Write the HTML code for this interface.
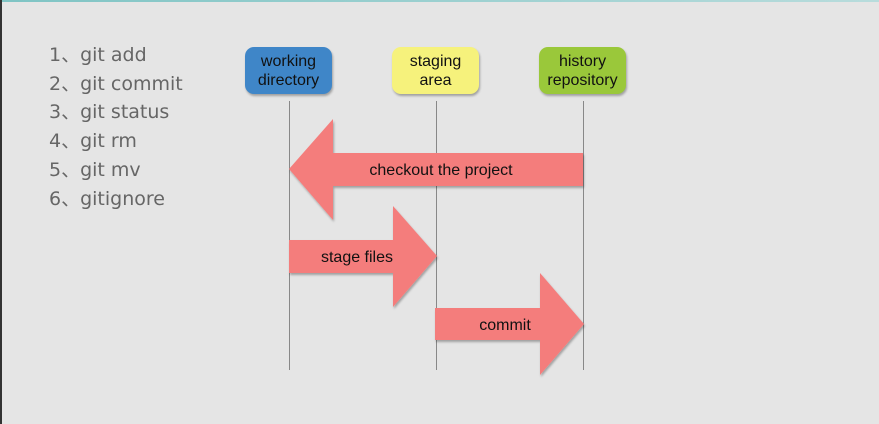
<!DOCTYPE html>
<html><head><meta charset="utf-8"><style>
html,body{margin:0;padding:0;}
body{width:879px;height:424px;background:#e5e5e5;position:relative;overflow:hidden;font-family:"Liberation Sans",Arial,sans-serif;}
.top{position:absolute;left:0;top:0;width:879px;height:2px;background:linear-gradient(90deg,#7fc4c4,#b8dcdc);}
.left{position:absolute;left:0;top:0;width:2px;height:424px;background:#333;}
.list{position:absolute;left:49px;top:41px;font-family:"DejaVu Sans","Noto Sans CJK JP",sans-serif;font-size:19px;color:#666;line-height:28.7px;}
.box{position:absolute;width:87px;height:47px;border-radius:9px;box-shadow:1px 2px 2px rgba(0,0,0,0.3);text-align:center;font-size:16px;line-height:19px;color:#111;box-sizing:border-box;padding-top:5px;}
</style></head><body>
<div class="top"></div><div class="left"></div>
<div class="list">1、git add<br>2、git commit<br>3、git status<br>4、git rm<br>5、git mv<br>6、gitignore</div>
<div class="box" style="left:245px;top:47px;background:#3f86c8;">working<br>directory</div>
<div class="box" style="left:392px;top:47px;background:#f6f27c;">staging<br>area</div>
<div class="box" style="left:539px;top:47px;background:#9ac83a;">history<br>repository</div>
<svg width="879" height="424" style="position:absolute;left:0;top:0" font-family="Liberation Sans, Arial, sans-serif" font-size="16">
<defs><filter id="s" x="-10%" y="-10%" width="130%" height="130%"><feDropShadow dx="1" dy="2" stdDeviation="1" flood-opacity="0.3"/></filter></defs>
<g stroke="#888" stroke-width="1">
<line x1="289.5" y1="101" x2="289.5" y2="370"/>
<line x1="436.5" y1="101" x2="436.5" y2="370"/>
<line x1="583.5" y1="101" x2="583.5" y2="370"/>
</g>
<g fill="#f47d7b" filter="url(#s)">
<polygon points="583,153 333,153 333,119 289,169 333,220 333,186 583,186"/>
<polygon points="289,240 393,240 393,206 437,256 393,307 393,273 289,273"/>
<polygon points="435,308 540,308 540,273 584,324 540,375 540,340 435,340"/>
</g>
<g fill="#111" text-anchor="middle">
<text x="441" y="175">checkout the project</text>
<text x="357" y="262">stage files</text>
<text x="505" y="330">commit</text>
</g>
</svg>
</body></html>
